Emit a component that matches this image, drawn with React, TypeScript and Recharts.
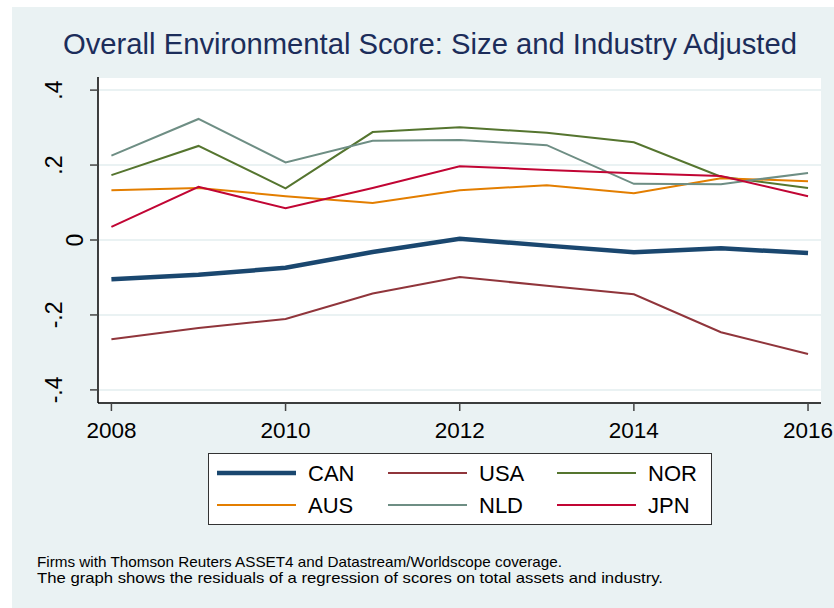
import React from "react";
import { LineChart, Line, XAxis, YAxis, CartesianGrid, Legend } from "recharts";

const years = [2008, 2009, 2010, 2011, 2012, 2013, 2014, 2015, 2016];
const CAN = [-0.105, -0.093, -0.074, -0.032, 0.003, -0.015, -0.033, -0.022, -0.035];
const USA = [-0.265, -0.235, -0.211, -0.143, -0.099, -0.122, -0.145, -0.246, -0.304];
const NOR = [0.173, 0.251, 0.138, 0.288, 0.301, 0.286, 0.261, 0.169, 0.139];
const AUS = [0.133, 0.139, 0.117, 0.099, 0.133, 0.146, 0.125, 0.165, 0.157];
const NLD = [0.225, 0.323, 0.207, 0.265, 0.267, 0.253, 0.15, 0.149, 0.179];
const JPN = [0.035, 0.142, 0.085, 0.139, 0.197, 0.187, 0.178, 0.171, 0.117];

const xTicks = [2008, 2010, 2012, 2014, 2016];
const yTicks = [-0.4, -0.2, 0, 0.2, 0.4];
const yTickLabels = ["-.4", "-.2", "0", ".2", ".4"];

const title = "Overall Environmental Score: Size and Industry Adjusted";
const notes = [
  "Firms with Thomson Reuters ASSET4 and Datastream/Worldscope coverage.",
  "The graph shows the residuals of a regression of scores on total assets and industry.",
];

const series = [
  { key: "CAN", values: CAN, color: "#1A476F", width: 4.5 },
  { key: "USA", values: USA, color: "#90353B", width: 2 },
  { key: "NOR", values: NOR, color: "#55752F", width: 2 },
  { key: "AUS", values: AUS, color: "#E37E00", width: 2 },
  { key: "NLD", values: NLD, color: "#6E8E84", width: 2 },
  { key: "JPN", values: JPN, color: "#C10534", width: 2 },
];

const data = years.map((year, i) => {
  const row: Record<string, number> = { year };
  series.forEach((s) => (row[s.key] = s.values[i]));
  return row;
});

const FONT = "'Liberation Sans', Arial, sans-serif";
const W = 822;
const H = 601;

const YTick = (props: any) => {
  const { y, payload } = props;
  const idx = yTicks.indexOf(payload.value);
  const label = idx >= 0 ? yTickLabels[idx] : String(payload.value);
  const bx = payload.value === 0 ? 71 : 50;
  return (
    <text
      transform={`translate(${bx},${y}) rotate(-90)`}
      textAnchor="middle"
      fontSize={23}
      fontFamily={FONT}
      fill="#000"
    >
      {label}
    </text>
  );
};

const XTick = (props: any) => {
  const { x, payload } = props;
  return (
    <text x={x} y={431} textAnchor="middle" fontSize={22.5} fontFamily={FONT} fill="#000">
      {payload.value}
    </text>
  );
};

const LegendBox = () => {
  const colX = [9, 180, 349];
  const rowY = [20, 52];
  return (
    <svg width={504} height={72} style={{ display: "block" }}>
      <rect x={0.5} y={0.5} width={503} height={71} fill="#fff" stroke="#333" strokeWidth={1} />
      {series.map((s, i) => {
        const c = i % 3;
        const r = Math.floor(i / 3);
        const lx = colX[c];
        const ly = rowY[r];
        return (
          <g key={s.key}>
            <line x1={lx} x2={lx + 79} y1={ly} y2={ly} stroke={s.color} strokeWidth={s.width} />
            <text x={lx + 91} y={ly + 8} fontSize={22} fontFamily={FONT} fill="#000">
              {s.key}
            </text>
          </g>
        );
      })}
    </svg>
  );
};

export default function App() {
  return (
    <div style={{ position: "absolute", left: 12, top: 7, width: W, height: H, background: "#EAF2F3" }}>
      <LineChart
        width={W}
        height={H}
        data={data}
        margin={{ top: 70, right: 13, left: 0, bottom: 93 }}
      >
        <CartesianGrid
          vertical={false}
          horizontal={true}
          fill="#ffffff"
          stroke="#EAF2F3"
          strokeWidth={2}
        />
        <XAxis
          dataKey="year"
          type="number"
          domain={[2007.846, 2016.149]}
          ticks={xTicks}
          height={40}
          tickSize={8}
          tick={<XTick />}
          axisLine={{ stroke: "#000", strokeWidth: 1.5 }}
          tickLine={{ stroke: "#444", strokeWidth: 1.5 }}
          allowDataOverflow
        />
        <YAxis
          type="number"
          domain={[-0.435, 0.435]}
          ticks={yTicks}
          width={86}
          tickSize={8}
          tick={<YTick />}
          axisLine={{ stroke: "#000", strokeWidth: 1.5 }}
          tickLine={{ stroke: "#444", strokeWidth: 1.5 }}
          allowDataOverflow
        />
        {series.map((s) => (
          <Line
            key={s.key}
            dataKey={s.key}
            stroke={s.color}
            strokeWidth={s.width}
            dot={false}
            activeDot={false}
            isAnimationActive={false}
            strokeLinejoin="miter"
          />
        ))}
        <Legend
          content={<LegendBox />}
          wrapperStyle={{ position: "absolute", left: 196, top: 446, width: 504, height: 72, bottom: "auto" }}
        />
      </LineChart>
      <svg
        width={W}
        height={H}
        style={{ position: "absolute", left: 0, top: 0, pointerEvents: "none" }}
      >
        <text
          x={51}
          y={46.5}
          fontSize={29}
          fontFamily={FONT}
          fill="#1C2D5A"
          textLength={734}
          lengthAdjust="spacingAndGlyphs"
        >
          {title}
        </text>
        <text
          x={25}
          y={560}
          fontSize={15}
          fontFamily={FONT}
          fill="#000"
          textLength={525}
          lengthAdjust="spacingAndGlyphs"
        >
          {notes[0]}
        </text>
        <text
          x={25}
          y={576}
          fontSize={15}
          fontFamily={FONT}
          fill="#000"
          textLength={626}
          lengthAdjust="spacingAndGlyphs"
        >
          {notes[1]}
        </text>
      </svg>
    </div>
  );
}
